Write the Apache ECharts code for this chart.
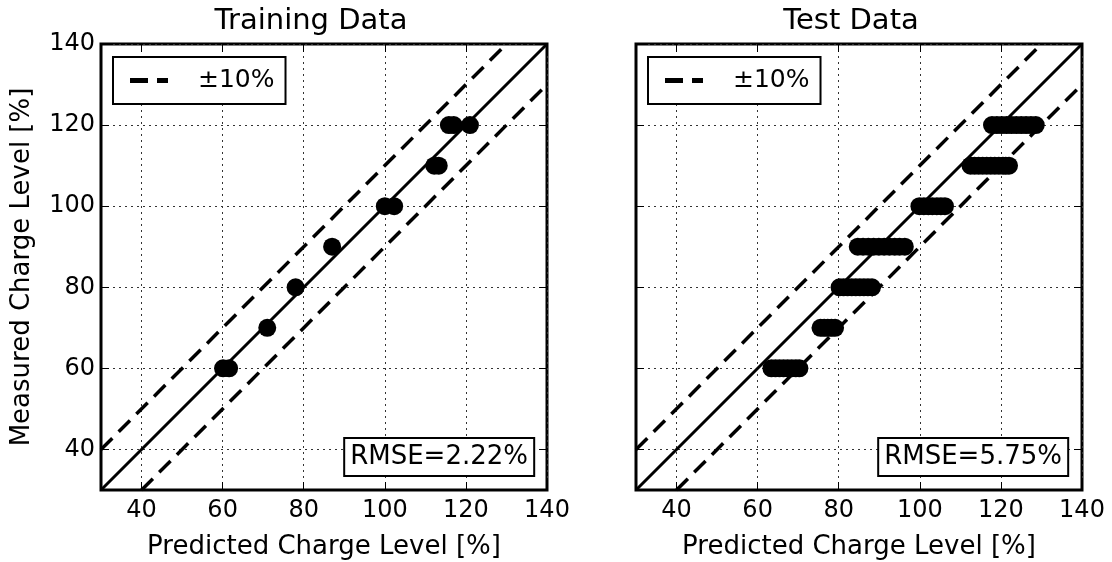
<!DOCTYPE html>
<html>
<head>
<meta charset="utf-8">
<script src="https://cdn.jsdelivr.net/npm/echarts@6/dist/echarts.min.js"></script>
<style>
  html, body { margin: 0; padding: 0; background: #fff; }
  #chart { width: 1112px; height: 562px; }
</style>
</head>
<body>
<div id="chart"></div>
<script>
// axis ticks shared by both panels
const tickValues = [40, 60, 80, 100, 120, 140];

// reference lines (perfect fit and +/-10 band)
const idealLine = [[30, 30], [140, 140]];
const upperBand = [[30, 40], [130, 140]];
const lowerBand = [[40, 30], [140, 130]];

// training set: predicted vs measured
const trainPred = [60.1, 61.6, 71, 78, 87, 100, 102.3, 112.2, 113.3, 115.8, 117, 121];
const trainMeas = [60, 60, 70, 80, 90, 100, 100, 110, 110, 120, 120, 120];

// test set: predicted vs measured
const testPred = [
  63.4, 64.4, 65.4, 66.4, 67.4, 68.4, 69.4, 70.3,
  75.5, 76.4, 77.3, 78.2, 79.1,
  80.2, 81.2, 82.2, 83.2, 84.2, 85.2, 86.2, 87.2, 88.2,
  84.7, 86, 87.3, 88.6, 89.9, 91.2, 92.5, 93.8, 95, 96.3,
  99.9, 101, 102.1, 103.1, 104.2, 105.2, 106.2,
  112.5, 113.5, 114.5, 115.5, 116.5, 117.5, 118.5, 119.5, 120.5, 121.2, 122,
  117.8, 119, 120.2, 121.4, 122.6, 123.8, 125, 126.2, 127.4, 128.6
];
const testMeas = [
  60, 60, 60, 60, 60, 60, 60, 60,
  70, 70, 70, 70, 70,
  80, 80, 80, 80, 80, 80, 80, 80, 80,
  90, 90, 90, 90, 90, 90, 90, 90, 90, 90,
  100, 100, 100, 100, 100, 100, 100,
  110, 110, 110, 110, 110, 110, 110, 110, 110, 110, 110,
  120, 120, 120, 120, 120, 120, 120, 120, 120, 120
];

const titles = ["Training Data", "Test Data"];
const rmseTexts = ["RMSE=2.22%", "RMSE=5.75%"];
const xName = "Predicted Charge Level [%]";
const yName = "Measured Charge Level [%]";

const font = "DejaVu Sans";
const zip = (a, b) => a.map((v, i) => [v, b[i]]);
// two short dashes, drawn as the legend icon
const dashIcon = "path://M0,0H18V5H0Z M27,0H38V5H27Z";

function makeAxis(gridIndex, position, showLabel, name) {
  return {
    type: "value",
    gridIndex: gridIndex,
    position: position,
    min: 30,
    max: 140,
    name: name || "",
    nameLocation: "middle",
    nameGap: position === "left" ? 66 : 44,
    nameTextStyle: { fontFamily: font, fontSize: 26, color: "#000" },
    axisLine: { show: false },
    axisTick: {
      show: true,
      inside: true,
      length: 8,
      customValues: tickValues,
      lineStyle: { color: "#000", width: 1 },
    },
    axisLabel: {
      show: showLabel,
      customValues: tickValues,
      fontFamily: font,
      fontSize: 24,
      color: "#000",
      margin: position === "left" ? 6 : 9,
    },
    splitLine: {
      show: position === "bottom" || position === "left",
      lineStyle: { color: "#333", width: 1, type: [2, 4] },
    },
  };
}

function panelSeries(idx, pred, meas) {
  const dashStyle = { color: "#000", width: 3.5, type: [16, 9] };
  return [
    {
      name: "ideal",
      type: "line",
      xAxisIndex: idx * 2,
      yAxisIndex: idx * 2,
      data: idealLine,
      symbol: "none",
      lineStyle: { color: "#000", width: 3 },
      silent: true,
    },
    {
      name: "±10%",
      type: "line",
      xAxisIndex: idx * 2,
      yAxisIndex: idx * 2,
      data: upperBand,
      symbol: "none",
      itemStyle: { color: "#000" },
      lineStyle: dashStyle,
      silent: true,
    },
    {
      name: "±10%",
      type: "line",
      xAxisIndex: idx * 2,
      yAxisIndex: idx * 2,
      data: lowerBand,
      symbol: "none",
      itemStyle: { color: "#000" },
      lineStyle: dashStyle,
      silent: true,
    },
    {
      name: "data",
      type: "scatter",
      xAxisIndex: idx * 2,
      yAxisIndex: idx * 2,
      data: zip(pred, meas),
      symbol: "circle",
      symbolSize: 18,
      itemStyle: { color: "#000", opacity: 1 },
      z: 3,
    },
  ];
}

function makeLegend(left) {
  return {
    data: [{ name: "±10%", icon: dashIcon }],
    left: left,
    top: 57,
    padding: [11, 11, 11, 17],
    itemWidth: 38,
    itemHeight: 5,
    borderColor: "#000",
    borderWidth: 2,
    backgroundColor: "#fff",
    itemStyle: { color: "#000" },
    textStyle: { fontFamily: font, fontSize: 25, color: "#000", padding: [0, 0, 0, 25] },
  };
}

function makeRmse(text, right) {
  return {
    text: text,
    right: right,
    bottom: 86,
    padding: [6, 6],
    borderColor: "#000",
    borderWidth: 2,
    backgroundColor: "#fff",
    textStyle: { fontFamily: font, fontSize: 26, fontWeight: "normal", color: "#000" },
  };
}

function makeGrid(left) {
  return {
    left: left,
    top: 44,
    width: 446,
    height: 446,
    outerBoundsMode: "none",
    containLabel: false,
    show: true,
    borderColor: "#000",
    borderWidth: 3,
    backgroundColor: "transparent",
  };
}

const chart = echarts.init(document.getElementById("chart"), null, { renderer: "canvas" });

const option = {
  animation: false,
  backgroundColor: "#fff",
  title: [
    { text: titles[0], left: 306, top: 2, textAlign: "center",
      textStyle: { fontFamily: font, fontSize: 29, fontWeight: "normal", color: "#000" } },
    { text: titles[1], left: 846, top: 2, textAlign: "center",
      textStyle: { fontFamily: font, fontSize: 29, fontWeight: "normal", color: "#000" } },
    makeRmse(rmseTexts[0], 578),
    makeRmse(rmseTexts[1], 44),
  ],
  legend: [makeLegend(113), makeLegend(648)],
  grid: [makeGrid(101), makeGrid(636)],
  xAxis: [
    makeAxis(0, "bottom", true, xName),
    makeAxis(0, "top", false),
    makeAxis(1, "bottom", true, xName),
    makeAxis(1, "top", false),
  ],
  yAxis: [
    makeAxis(0, "left", true, yName),
    makeAxis(0, "right", false),
    makeAxis(1, "left", false),
    makeAxis(1, "right", false),
  ],
  series: [].concat(
    panelSeries(0, trainPred, trainMeas),
    panelSeries(1, testPred, testMeas)
  ),
};

chart.setOption(option);
</script>
</body>
</html>
